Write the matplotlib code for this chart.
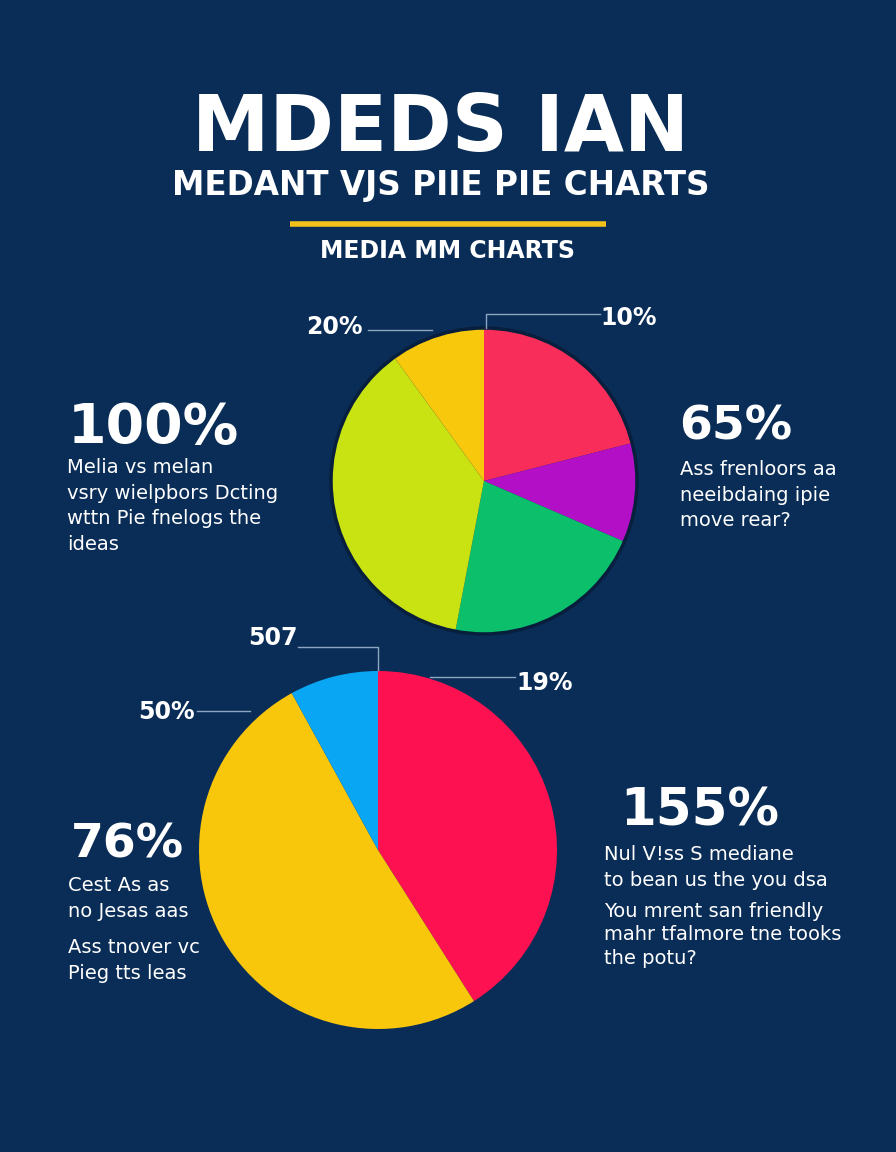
import matplotlib.pyplot as plt

# canvas size in pixels
W, H = 896, 1152

# top pie: clockwise from 12 o'clock
top_values = [21, 10.5, 21.5, 37, 10]
top_colors = ['#f92d5a', '#b30fc6', '#0cbf6b', '#c9e312', '#f8c80c']

# bottom pie: clockwise from 12 o'clock
bottom_values = [41, 51, 8]
bottom_colors = ['#fe1150', '#f8c60b', '#08a6f3']

title = 'MDEDS IAN'
subtitle = 'MEDANT VJS PIIE PIE CHARTS'
section = 'MEDIA MM CHARTS'

top_labels = ['20%', '10%']
bottom_labels = ['507', '19%', '50%']

stats = ['100%', '65%', '76%', '155%']
notes = [
    'Melia vs melan\nvsry wielpbors Dcting\nwttn Pie fnelogs the\nideas',
    'Ass frenloors aa\nneeibdaing ipie\nmove rear?',
    'Cest As as\nno Jesas aas',
    'Ass tnover vc\nPieg tts leas',
    'Nul V!ss S mediane\nto bean us the you dsa',
    'You mrent san friendly\nmahr tfalmore tne tooks\nthe potu?',
]

BG = '#0a2d57'
LINE = '#8ea5c2'

fig = plt.figure(figsize=(W / 100, H / 100), dpi=100, facecolor=BG)
ax = fig.add_axes([0, 0, 1, 1])
ax.set_facecolor(BG)


def Y(y):
    # pixel row (from top) -> data y
    return H - y


def txt(x, y, s, size, weight='normal', ha='center', **kw):
    ax.text(x, Y(y), s, fontsize=size, fontweight=weight, color='white',
            ha=ha, va='center', family='DejaVu Sans', **kw)


def note(x, y, s, spacing=1.45):
    ax.text(x, Y(y), s, fontsize=14, color='white', ha='left', va='top',
            linespacing=spacing)


# pies (thin dark rim like the poster's drop shadow)
ax.pie(top_values, colors=top_colors, startangle=90, counterclock=False,
       center=(484, Y(481)), radius=152, frame=True,
       wedgeprops=dict(linewidth=0))
ax.add_patch(plt.Circle((484, Y(481)), 153, fill=False, ec='#071f3d', lw=2.5))
ax.pie(bottom_values, colors=bottom_colors, startangle=90, counterclock=False,
       center=(378, Y(850)), radius=179, frame=True,
       wedgeprops=dict(linewidth=0))

# headings
txt(440, 129, title, 56, 'bold')
txt(441, 185, subtitle, 23.5, 'bold')
ax.plot([290, 606], [Y(224), Y(224)], color='#f2c21b', lw=4, solid_capstyle='butt')
txt(447, 251, section, 17, 'bold')

# leader lines and slice labels
ax.plot([368, 432], [Y(330), Y(330)], color=LINE, lw=1)
ax.plot([486, 486, 600], [Y(328), Y(314), Y(314)], color=LINE, lw=1)
txt(334, 327, top_labels[0], 17, 'bold')
txt(629, 318, top_labels[1], 17, 'bold')

ax.plot([298, 378, 378], [Y(647), Y(647), Y(670)], color=LINE, lw=1)
ax.plot([430, 515], [Y(677), Y(677)], color=LINE, lw=1)
ax.plot([197, 250], [Y(711), Y(711)], color=LINE, lw=1)
txt(273, 638, bottom_labels[0], 17, 'bold')
txt(545, 683, bottom_labels[1], 17, 'bold')
txt(166, 712, bottom_labels[2], 17, 'bold')

# side stats
txt(68, 428, stats[0], 40, 'bold', ha='left')
txt(679, 427, stats[1], 34, 'bold', ha='left')
txt(71, 845, stats[2], 34, 'bold', ha='left')
txt(620, 811, stats[3], 37, 'bold', ha='left')

note(67, 458, notes[0])
note(680, 460, notes[1])
note(68, 876, notes[2])
note(68, 938, notes[3])
note(604, 845, notes[4])
note(604, 902, notes[5], spacing=1.3)

ax.set_xlim(0, W)
ax.set_ylim(0, H)
ax.set_aspect('equal')
ax.axis('off')

fig.savefig('out.png', dpi=100, facecolor=BG)
